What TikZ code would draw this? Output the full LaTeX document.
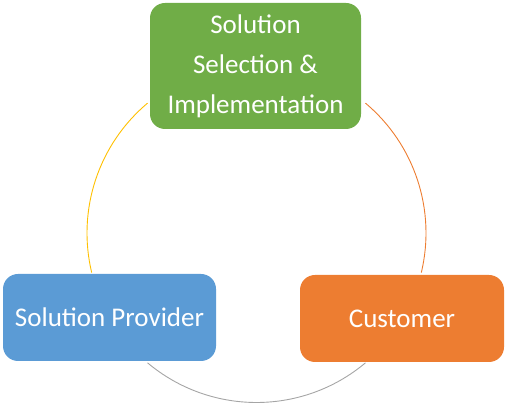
\documentclass[tikz,border=0pt]{standalone}
\usepackage{fontspec}
\setmainfont{Carlito}
\definecolor{cgreen}{HTML}{70AD47}
\definecolor{cblue}{HTML}{5B9BD5}
\definecolor{corange}{HTML}{ED7D31}
\definecolor{cyellow}{HTML}{FFC000}
\definecolor{cgray}{HTML}{A5A5A5}
\tikzset{
  box/.style={rectangle, rounded corners=15pt, draw=none, text=white, align=center, inner sep=0pt,
    font=\fontsize{27}{40}\selectfont},
  ring/.style={line width=0.9pt}
}
\begin{document}
\begin{tikzpicture}[x=1pt,y=1pt]
\useasboundingbox (0,0) rectangle (509,404);
\coordinate (c) at (256.5,171);
\draw[ring, cyellow] ([shift={(130:169.5)}]c) arc[start angle=130, end angle=193.5, radius=169.5];
\draw[ring, corange] ([shift={(50:169.5)}]c) arc[start angle=50, end angle=-13.5, radius=169.5];
\draw[ring, cgray] ([shift={(230:169.5)}]c) arc[start angle=230, end angle=310, radius=169.5];
\node[box, fill=cgreen, minimum width=211pt, minimum height=126pt] (sel) at (255.5,338) {Solution\\Selection \&\\Implementation};
\node[box, fill=cblue, minimum width=213pt, minimum height=87pt] (prov) at (109.5,86.5) {Solution Provider};
\node[box, fill=corange, minimum width=204pt, minimum height=87pt] (cust) at (402,85.5) {Customer};
\end{tikzpicture}
\end{document}
